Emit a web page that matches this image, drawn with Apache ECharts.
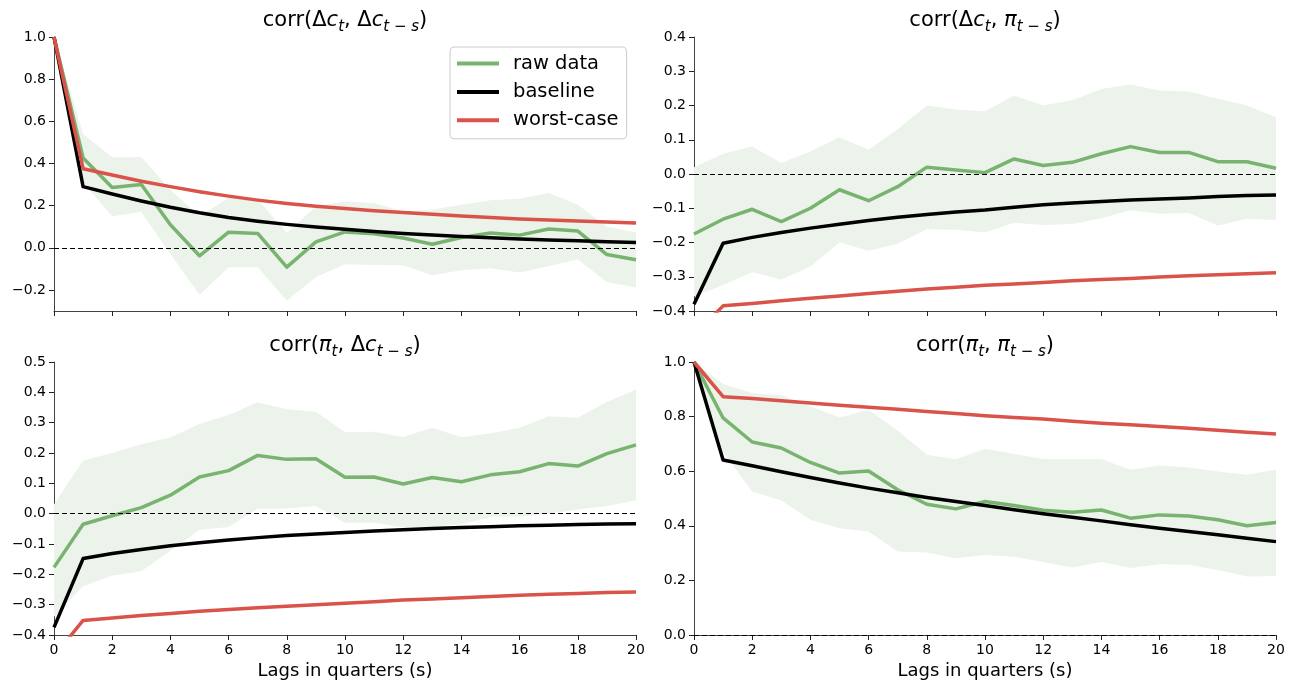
<!DOCTYPE html>
<html>
<head>
<meta charset="utf-8">
<script src="https://cdn.jsdelivr.net/npm/echarts@6/dist/echarts.min.js"></script>
<style>
html,body{margin:0;padding:0;background:#fff;}
#chart{width:1295px;height:681px;}
</style>
</head>
<body>
<div id="chart"></div>
<script>
// ---------------- DATA ----------------
const lags = [0,1,2,3,4,5,6,7,8,9,10,11,12,13,14,15,16,17,18,19,20];
const seriesNames = ['raw data', 'baseline', 'worst-case'];
const xAxisName = 'Lags in quarters (s)';

// Panel 1: corr(Δc_t, Δc_{t-s})
const rawDcDc   = [1.0,0.426,0.286,0.30,0.109,-0.038,0.074,0.068,-0.092,0.028,0.075,0.066,0.046,0.017,0.049,0.07,0.06,0.089,0.079,-0.032,-0.057];
const upDcDc    = [1.0,0.54,0.43,0.43,0.275,0.15,0.236,0.23,0.07,0.196,0.22,0.212,0.172,0.18,0.204,0.225,0.232,0.26,0.204,0.10,0.073];
const loDcDc    = [1.0,0.31,0.149,0.17,-0.03,-0.223,-0.092,-0.092,-0.25,-0.14,-0.078,-0.082,-0.083,-0.13,-0.107,-0.097,-0.117,-0.088,-0.054,-0.163,-0.188];
const baseDcDc  = [1.0,0.29,0.255,0.222,0.192,0.166,0.144,0.126,0.111,0.099,0.088,0.077,0.068,0.061,0.054,0.048,0.042,0.037,0.033,0.029,0.025];
const worstDcDc = [1.0,0.375,0.345,0.316,0.29,0.266,0.245,0.226,0.21,0.197,0.186,0.176,0.167,0.159,0.151,0.144,0.137,0.132,0.127,0.122,0.118];

// Panel 2: corr(Δc_t, π_{t-s})
const rawDcPi   = [-0.175,-0.132,-0.103,-0.139,-0.10,-0.046,-0.078,-0.037,0.02,0.012,0.004,0.044,0.025,0.034,0.059,0.08,0.063,0.063,0.036,0.036,0.017];
const upDcPi    = [0.02,0.059,0.08,0.032,0.066,0.107,0.071,0.131,0.20,0.188,0.183,0.229,0.20,0.215,0.248,0.261,0.244,0.241,0.22,0.20,0.166];
const loDcPi    = [-0.358,-0.324,-0.287,-0.308,-0.27,-0.199,-0.224,-0.204,-0.161,-0.163,-0.171,-0.142,-0.149,-0.146,-0.129,-0.106,-0.116,-0.114,-0.15,-0.131,-0.134];
const baseDcPi  = [-0.38,-0.202,-0.185,-0.171,-0.158,-0.147,-0.136,-0.126,-0.118,-0.111,-0.105,-0.097,-0.09,-0.085,-0.08,-0.076,-0.073,-0.07,-0.066,-0.063,-0.061];
const worstDcPi = [-0.47,-0.385,-0.378,-0.37,-0.363,-0.356,-0.349,-0.342,-0.336,-0.331,-0.325,-0.321,-0.317,-0.312,-0.308,-0.305,-0.301,-0.297,-0.294,-0.291,-0.288];

// Panel 3: corr(π_t, Δc_{t-s})
const rawPiDc   = [-0.177,-0.035,-0.007,0.02,0.061,0.121,0.142,0.192,0.179,0.181,0.12,0.121,0.098,0.119,0.105,0.128,0.138,0.165,0.157,0.198,0.227];
const upPiDc    = [0.03,0.175,0.20,0.229,0.251,0.296,0.325,0.367,0.344,0.336,0.268,0.27,0.253,0.283,0.252,0.264,0.283,0.321,0.316,0.368,0.409];
const loPiDc    = [-0.34,-0.239,-0.204,-0.19,-0.122,-0.053,-0.044,0.016,0.017,0.025,-0.03,-0.03,-0.046,-0.043,-0.035,-0.011,-0.01,0.0,0.014,0.025,0.044];
const basePiDc  = [-0.375,-0.148,-0.131,-0.118,-0.106,-0.096,-0.087,-0.079,-0.072,-0.067,-0.062,-0.057,-0.053,-0.049,-0.046,-0.043,-0.04,-0.038,-0.036,-0.034,-0.033];
const worstPiDc = [-0.47,-0.352,-0.344,-0.336,-0.329,-0.322,-0.316,-0.31,-0.305,-0.3,-0.295,-0.29,-0.285,-0.281,-0.277,-0.273,-0.269,-0.266,-0.263,-0.26,-0.258];

// Panel 4: corr(π_t, π_{t-s})
const rawPiPi   = [1.0,0.795,0.707,0.685,0.632,0.593,0.601,0.532,0.479,0.462,0.489,0.474,0.457,0.45,0.458,0.428,0.44,0.436,0.422,0.40,0.412];
const upPiPi    = [1.0,0.919,0.886,0.878,0.837,0.797,0.825,0.748,0.66,0.644,0.682,0.663,0.645,0.645,0.645,0.605,0.621,0.614,0.599,0.587,0.605];
const loPiPi    = [1.0,0.67,0.526,0.493,0.422,0.391,0.379,0.306,0.302,0.281,0.293,0.287,0.267,0.247,0.267,0.245,0.259,0.257,0.238,0.214,0.216];
const basePiPi  = [1.0,0.641,0.62,0.598,0.577,0.557,0.538,0.521,0.504,0.489,0.474,0.459,0.444,0.431,0.418,0.404,0.391,0.379,0.367,0.354,0.342];
const worstPiPi = [1.0,0.873,0.866,0.858,0.85,0.842,0.834,0.827,0.819,0.811,0.803,0.797,0.791,0.783,0.776,0.77,0.764,0.757,0.75,0.743,0.736];

// Tick labels
const xTicks = [0,2,4,6,8,10,12,14,16,18,20];
const yTicksDcDc = [-0.2,0.0,0.2,0.4,0.6,0.8,1.0];
const yTicksDcPi = [-0.4,-0.3,-0.2,-0.1,0.0,0.1,0.2,0.3,0.4];
const yTicksPiDc = [-0.4,-0.3,-0.2,-0.1,0.0,0.1,0.2,0.3,0.4,0.5];
const yTicksPiPi = [0.0,0.2,0.4,0.6,0.8,1.0];

// ---------------- CHART ----------------
const FONT = 'DejaVu Sans';
const GREEN = '#78b36f';
const BLACK = '#000000';
const RED = '#d9534b';
const BAND = '#ebf3ea';
const AXIS = '#444444';

const panels = [
  {raw: rawDcDc, up: upDcDc, lo: loDcDc, base: baseDcDc, worst: worstDcDc, ticks: yTicksDcDc, min: -0.3, max: 1.0, left: 54, top: 37, bottomRow: false,
   title: '{n|corr(Δ}{i|c}{s|t}{n|, Δ}{i|c}{s|t − s}{n|)}'},
  {raw: rawDcPi, up: upDcPi, lo: loDcPi, base: baseDcPi, worst: worstDcPi, ticks: yTicksDcPi, min: -0.4, max: 0.4, left: 694, top: 37, bottomRow: false,
   title: '{n|corr(Δ}{i|c}{s|t}{n|, }{i|π}{s|t − s}{n|)}'},
  {raw: rawPiDc, up: upPiDc, lo: loPiDc, base: basePiDc, worst: worstPiDc, ticks: yTicksPiDc, min: -0.4, max: 0.5, left: 54, top: 362, bottomRow: true,
   title: '{n|corr(}{i|π}{s|t}{n|, Δ}{i|c}{s|t − s}{n|)}'},
  {raw: rawPiPi, up: upPiPi, lo: loPiPi, base: basePiPi, worst: worstPiPi, ticks: yTicksPiPi, min: 0.0, max: 1.0, left: 694, top: 362, bottomRow: true,
   title: '{n|corr(}{i|π}{s|t}{n|, }{i|π}{s|t − s}{n|)}'}
];

const W = 582, H = 274;
const fmt = v => (v < 0 ? '\u2212' : '') + Math.abs(v).toFixed(1);

const grids = [], xAxes = [], yAxes = [], series = [], graphics = [];

const richTitle = {
  n: {fontFamily: FONT, fontSize: 21, lineHeight: 27, verticalAlign: 'middle', fill: '#000'},
  i: {fontFamily: FONT, fontSize: 21, fontStyle: 'italic', lineHeight: 27, verticalAlign: 'middle', fill: '#000'},
  s: {fontFamily: FONT, fontSize: 15, fontStyle: 'italic', lineHeight: 16, verticalAlign: 'bottom', fill: '#000'}
};

panels.forEach((p, k) => {
  grids.push({left: p.left, top: p.top, width: W, height: H, containLabel: false});
  xAxes.push({
    type: 'value', gridIndex: k, min: 0, max: 20, interval: 2,
    axisLine: {show: true, onZero: false, lineStyle: {color: AXIS, width: 1}},
    axisTick: {show: true, length: 5, lineStyle: {color: '#222', width: 1}, customValues: xTicks},
    axisLabel: {show: p.bottomRow, fontFamily: FONT, fontSize: 14, color: '#000', margin: 8, customValues: xTicks},
    splitLine: {show: false},
    name: p.bottomRow ? xAxisName : '', nameLocation: 'middle', nameGap: 27,
    nameTextStyle: {fontFamily: FONT, fontSize: 18, color: '#000'}
  });
  yAxes.push({
    type: 'value', gridIndex: k, min: p.min, max: p.max,
    axisLine: {show: true, onZero: false, lineStyle: {color: AXIS, width: 1}},
    axisTick: {show: true, length: 5, lineStyle: {color: '#222', width: 1}, customValues: p.ticks},
    axisLabel: {fontFamily: FONT, fontSize: 14, color: '#000', margin: 8, customValues: p.ticks, formatter: fmt},
    splitLine: {show: false}
  });
  // confidence band
  series.push({
    type: 'custom', xAxisIndex: k, yAxisIndex: k, silent: true, z: 1, clip: true,
    data: lags.map((x, i) => [x, p.lo[i], p.up[i]]),
    renderItem: (params, api) => {
      if (params.dataIndex !== 0) return null;
      const pts = [];
      for (let i = 0; i < lags.length; i++) pts.push(api.coord([lags[i], p.up[i]]));
      for (let i = lags.length - 1; i >= 0; i--) pts.push(api.coord([lags[i], p.lo[i]]));
      return {type: 'polygon', shape: {points: pts}, style: {fill: BAND}};
    },
    markLine: {
      silent: true, symbol: 'none', label: {show: false},
      lineStyle: {color: '#000', type: [5, 3], width: 1},
      data: [{yAxis: 0}]
    }
  });
  const mk = (name, data, color, z) => ({
    name, type: 'line', xAxisIndex: k, yAxisIndex: k, z, silent: true,
    data: lags.map((x, i) => [x, data[i]]),
    symbol: 'none', clip: true,
    lineStyle: {color, width: 3.5, join: 'round', cap: 'butt'},
    itemStyle: {color}
  });
  series.push(mk(seriesNames[0], p.raw, GREEN, 3));
  series.push(mk(seriesNames[1], p.base, BLACK, 4));
  series.push(mk(seriesNames[2], p.worst, RED, 5));

  graphics.push({
    type: 'text', x: p.left + W / 2, y: p.top - 16,
    style: {text: p.title, rich: richTitle, align: 'center', verticalAlign: 'middle'}
  });
});

const chart = echarts.init(document.getElementById('chart'), null, {renderer: 'canvas'});
chart.setOption({
  animation: false,
  backgroundColor: '#fff',
  grid: grids,
  xAxis: xAxes,
  yAxis: yAxes,
  legend: {
    data: seriesNames,
    orient: 'vertical',
    left: 450, top: 47,
    padding: [6, 8, 8, 7],
    itemGap: 7.4,
    itemWidth: 42, itemHeight: 4,
    icon: 'rect',
    borderColor: '#cccccc', borderWidth: 1, borderRadius: 4,
    backgroundColor: 'rgba(255,255,255,0.8)',
    textStyle: {fontFamily: FONT, fontSize: 19.5, color: '#000', lineHeight: 21, padding: [0, 0, 0, 9]},
    selectedMode: false
  },
  graphic: graphics,
  series
});
</script>
</body>
</html>
